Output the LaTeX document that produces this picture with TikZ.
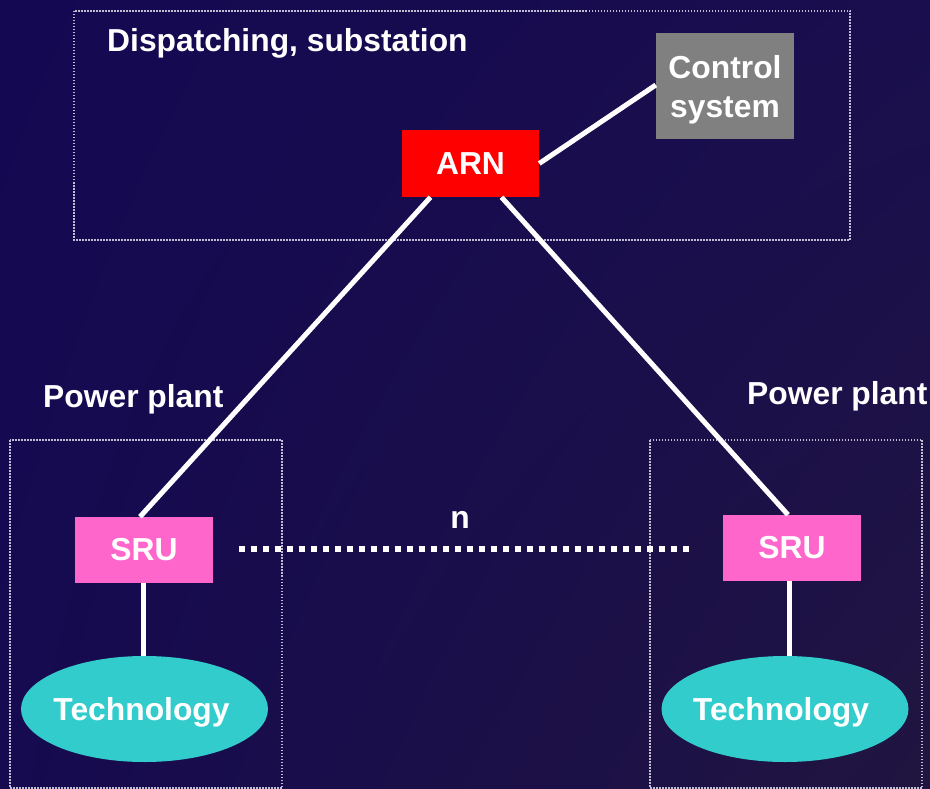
\documentclass[tikz,border=0pt]{standalone}
\usepackage{fontspec}
\setmainfont{Liberation Sans}
\usetikzlibrary{shapes.geometric,shadings}
\definecolor{bgUL}{HTML}{140852}
\definecolor{bgUR}{HTML}{1A0E4E}
\definecolor{bgLL}{HTML}{160A50}
\definecolor{bgLR}{HTML}{201540}
\definecolor{frame}{HTML}{C0BED2}
\definecolor{arnred}{HTML}{FF0000}
\definecolor{ctrlgray}{HTML}{808080}
\definecolor{srupink}{HTML}{FF66CC}
\definecolor{techcyan}{HTML}{33CCCC}
\tikzset{
  bigtext/.style={font=\fontsize{31.8}{39}\selectfont\bfseries, text=white},
  zonebox/.style={draw=frame, line width=1.4pt, dash pattern=on 1.5pt off 1.5pt},
  unitbox/.style={bigtext, inner sep=0pt, align=center},
  techbox/.style={unitbox, ellipse, fill=techcyan, minimum width=247pt, minimum height=106pt, text depth=0pt},
  link/.style={draw=white, line width=5pt},
  dotlink/.style={draw=white, line width=6pt, dash pattern=on 6pt off 6pt}
}
\begin{document}
\begin{tikzpicture}[x=1pt, y=-1pt]
  \useasboundingbox (0,0) rectangle (930,789);
  % background
  \shade[upper left=bgUL, upper right=bgUR, lower left=bgLL, lower right=bgLR]
    (0,0) rectangle (930,789);

  % dotted zone frames
  \draw[zonebox] (74,11) rectangle (850,240);
  \draw[zonebox] (10,440) rectangle (282,788);
  \draw[zonebox] (650,440) rectangle (922,788);

  % zone labels
  \node[bigtext, anchor=base west, inner sep=0pt] (lblDisp) at (107,52) {Dispatching, substation};
  \node[bigtext, anchor=base west, inner sep=0pt] (lblPlantL) at (43,407) {Power plant};
  \node[bigtext, anchor=base west, inner sep=0pt] (lblPlantR) at (747,404) {Power plant};

  % units
  \node[unitbox, fill=arnred, minimum width=137pt, minimum height=67pt] (arn) at (470.5,163.5) {ARN};
  \node[unitbox, fill=ctrlgray, minimum width=138pt, minimum height=106pt] (ctrl) at (725,86) {\rule{0pt}{31pt}Control\\system};
  \node[unitbox, fill=srupink, minimum width=138pt, minimum height=66pt] (sruL) at (144,550) {SRU};
  \node[unitbox, fill=srupink, minimum width=138pt, minimum height=66pt] (sruR) at (792,548) {SRU};
  \node[techbox] (techL) at (144.5,709) {\hspace*{-6pt}Technology};
  \node[techbox] (techR) at (785,709) {\hspace*{-8pt}Technology};

  % connectors
  \draw[link] (ctrl.west |- 0,85) -- (arn.east);
  \draw[link] ([xshift=-40pt]arn.south) -- ([xshift=-4pt]sruL.north);
  \draw[link] ([xshift=31pt]arn.south) -- ([xshift=-4pt]sruR.north);
  \draw[link] ([xshift=-1pt]sruL.south) -- ([xshift=-1.5pt]techL.north);
  \draw[link] ([xshift=-3pt]sruR.south) -- ([xshift=4pt]techR.north);

  % n parallel links between the SRUs
  \coordinate (dotA) at (239,549);
  \coordinate (dotB) at (690,549);
  \draw[dotlink] (dotA) -- (dotB);
  \node[bigtext, anchor=base, inner sep=0pt] (nlbl) at (460,528) {n};
\end{tikzpicture}
\end{document}
